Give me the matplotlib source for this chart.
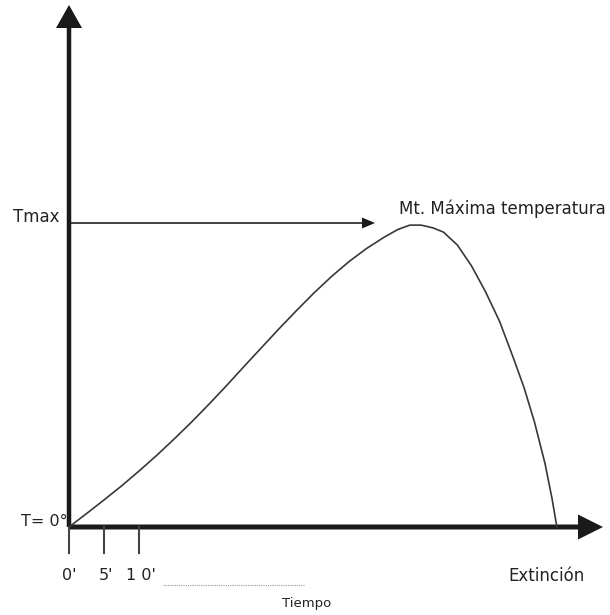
import matplotlib.pyplot as plt

# tiempo (min) y temperatura (% de Tmax)
tiempo = [0, 2.5, 5, 7.5, 10, 12.5, 15, 17.5, 20, 22.5, 25, 27.5, 30, 32.5, 35,
          37.5, 40, 42.5, 45, 47, 48.7, 50.3, 52, 53.5, 55.5, 57.5, 59.5, 61.5,
          63.5, 65, 66.5, 68, 69, 69.7]
temperatura = [0, 4.4, 8.9, 13.5, 18.4, 23.5, 28.9, 34.5, 40.4, 46.5, 52.8, 59.0,
               65.2, 71.2, 77.0, 82.4, 87.3, 91.6, 95.3, 97.9, 99.3, 99.3, 98.4,
               97.0, 92.7, 85.9, 77.4, 67.7, 55.5, 45.9, 34.5, 20.9, 9.4, 0]
tmax = 100
t_extincion = 69.7
marcas = [0, 5, 10]
etiquetas = ["0'", "5'", "1 0'"]

# escala: 7 px por minuto, 3.04 px por unidad de temperatura
px_t = 7.0
px_T = 3.04

fig = plt.figure(figsize=(6.1, 6.15), dpi=100)
ax = fig.add_axes([0, 0, 1, 1])
ax.set_xlim(-69 / px_t, (610 - 69) / px_t)
ax.set_ylim((527 - 615) / px_T, 527 / px_T)
ax.axis("off")

col = "#1a1a1a"
txt = "#222222"

# eje vertical con flecha
ax.arrow(0, 0, 0, 522 / px_T, width=4.5 / px_t, head_width=26 / px_t,
         head_length=23 / px_T, length_includes_head=True, color=col, lw=0)
# eje horizontal con flecha
ax.arrow(0, 0, (603 - 69) / px_t, 0, width=5 / px_T, head_width=25 / px_T,
         head_length=25 / px_t, length_includes_head=True, color=col, lw=0)

# curva de temperatura
ax.plot(tiempo, temperatura, color="#383838", lw=1.2, solid_joinstyle="round")

# flecha Tmax
ax.arrow(0, tmax, (375 - 69) / px_t, 0, width=1.6 / px_T, head_width=11 / px_T,
         head_length=13 / px_t, length_includes_head=True, color=col, lw=0)

# marcas de tiempo
for m in marcas:
    ax.plot([m, m], [0, -26 / px_T], color="#444444", lw=1.5)
for m, e in zip(marcas, etiquetas):
    ax.text(m + 0.3 * (m > 0), -49 / px_T, e, ha="center", va="center",
            fontsize=11.5, color=txt)
ax.plot([(163 - 69) / px_t, (305 - 69) / px_t], [-58 / px_T, -58 / px_T],
        color="#999999", lw=0.8, ls=(0, (1, 1)))

ax.text(-9 / px_t, tmax + 6 / px_T, "Tmax", ha="right", va="center",
        fontsize=12, color=txt)
ax.text(-1 / px_t, 6 / px_T, "T= 0°", ha="right", va="center",
        fontsize=11.5, color=txt)
ax.text(330 / px_t, tmax + 14 / px_T, "Mt. Máxima temperatura", ha="left",
        va="center", fontsize=12, color=txt)
ax.text(t_extincion - 7, -49 / px_T, "Extinción", ha="left", va="center",
        fontsize=12, color=txt)
ax.text(238 / px_t, -76 / px_T, "Tiempo", ha="center", va="center",
        fontsize=9.5, color=txt)

fig.savefig("out.png", dpi=100)
